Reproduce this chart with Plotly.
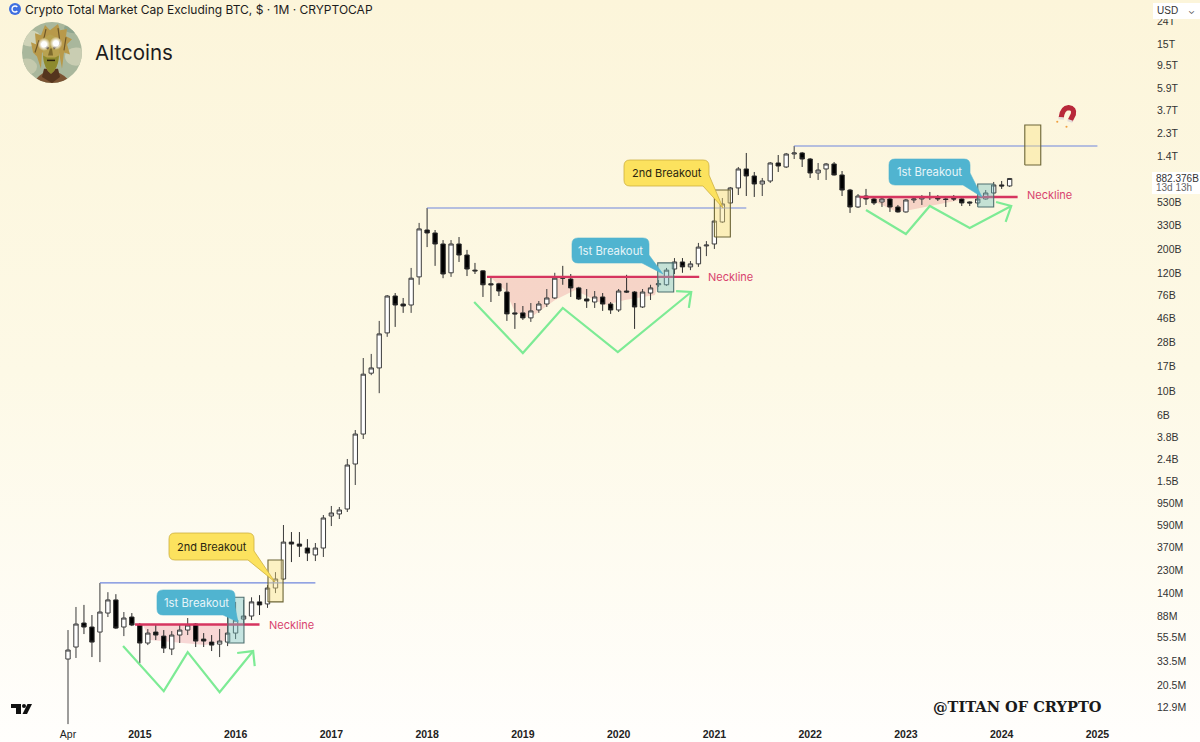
import base64
import plotly.graph_objects as go

# monthly candles, market cap in $B, first one is Apr 2014
opens = [.0354,.0456,.0756,.0695,.0625,.0933,.123,.0695,.0858,.0725,.0496,.0625,.0574,.0437,.0587,.0652,.074,.0539,.0506,.0485,
         .0506,.0612,.0822,.0876,.118,.113,.158,.191,.416,.399,.367,.317,.367,.721,.752,.835,2.155,4.05,14.6,16.3,
         34.1,74.2,62.7,61.4,111,298,280,222,121,222,176,128,126,96,96,80.7,52,52,46.8,55.3,
         62.7,71.2,111,106,88,69.7,65.4,72.7,62.7,55.3,82.4,80.7,58.9,79,94,94,131,152,137,146,
         213,222,353,527,723,1078,930,786,837,1223,1124,1478,1510,1330,991,1078,1198,950,692,484,
         610,573,538,573,484,436,561,573,598,598,573,579,573,538,527,573,650,770,754]
highs = [.0652,.106,.1107,.0895,.1756,.1448,.1388,.0953,.0933,.0756,.0666,.0725,.0652,.0638,.0725,.084,.0756,.0612,.0587,.0666,
         .0895,.118,.123,.130,.136,.168,.221,.596,.514,.514,.443,.408,.736,.890,.871,2.395,4.41,20.1,21.9,43.9,
         75.8,79,71.2,134,346,474,298,241,241,257,196,149,128,111,98,98,64,60.1,64,66.8,
         86,121,140,118,90,86,82.4,79,65.4,86,116,82.4,86,94,104,134,165,165,155,227,
         236,365,585,738,1124,1510,1012,892,1249,1447,1510,1750,1542,1359,1223,1223,1249,1033,708,636,
         708,598,598,610,505,573,610,623,664,623,598,623,580,545,598,692,820,837,892]
lows = [.00899,.0362,.0599,.0369,.0332,.0858,.0666,.0574,.0709,.0325,.0475,.0528,.0402,.0385,.0496,.0587,.0456,.0456,.0419,.0369,
        .0465,.0539,.0725,.0805,.0895,.104,.142,.187,.273,.304,.279,.279,.304,.583,.676,.784,1.385,3.65,14.0,9.58,
        31.4,38.7,52,52,94,208,140,108,111,152,113,118,72.7,65.4,74.2,43.9,37.1,44.8,43,52,
        58.9,69.7,94,72.7,68.2,57.7,57.7,54.2,50.9,53,79,37.1,57.7,68.2,90,92,118,121,128,137,
        172,200,346,516,623,610,598,610,803,1012,1100,1330,1124,892,855,855,940,610,427,474,
        505,505,484,436,430,430,527,505,561,549,484,549,494,494,505,565,640,708,738]
closes = [.0428,.074,.0695,.0506,.0953,.123,.068,.084,.0725,.0496,.0612,.0587,.0446,.0587,.0652,.0725,.0517,.0517,.0475,.0517,
          .0612,.0805,.0876,.118,.1107,.158,.191,.416,.399,.382,.330,.367,.691,.768,.818,2.11,4.05,14.3,16.3,33.4,
          74.2,61.4,60.1,108,305,280,222,118,222,176,131,126,94,94,82.4,50.9,50.9,46.8,54.2,62.7,
          71.2,108,108,88,69.7,66.8,72.7,62.7,55.3,82.4,80.7,58.9,80.7,88,96,128,152,137,146,208,
          217,360,516,723,1078,930,786,837,1223,1148,1478,1510,1330,991,1055,1198,950,692,484,610,
          573,527,573,484,436,561,573,598,590,573,567,573,527,527,573,650,770,754,882]

x_ticks = [0, 9, 21, 33, 45, 57, 69, 81, 93, 105, 117, 129]
x_labels = ['Apr', '<b>2015</b>', '<b>2016</b>', '<b>2017</b>', '<b>2018</b>', '<b>2019</b>',
            '<b>2020</b>', '<b>2021</b>', '<b>2022</b>', '<b>2023</b>', '<b>2024</b>', '<b>2025</b>']
y_ticks = [24000, 15000, 9500, 5900, 3700, 2300, 1400, 530, 330, 200, 120, 76, 46, 28, 17, 10, 6, 3.8, 2.4, 1.5,
           .95, .59, .37, .23, .14, .088, .0555, .0335, .0205, .0129]
y_labels = ['24T', '15T', '9.5T', '5.9T', '3.7T', '2.3T', '1.4T', '530B', '330B', '200B', '120B', '76B', '46B',
            '28B', '17B', '10B', '6B', '3.8B', '2.4B', '1.5B', '950M', '590M', '370M', '230M', '140M', '88M',
            '55.5M', '33.5M', '20.5M', '12.9M']

# levels drawn on the chart, same units (month index, $B)
neck_months = [[8.4, 24], [52.5, 79.1], [99.2, 119]]
neck_levels = [.0733, 111, 598]
high_months = [[4, 31], [45, 85], [91, 129]]
high_levels = [.176, 474, 1750]

zig_months = [[6.9, 12, 15, 19, 23.2, None, 21.2, 23.2, 23.4],
              [50.9, 57, 62, 68.9, 78.1, None, 76.2, 78.1, 77.8],
              [100, 105, 108, 113, 118.2, None, 116.3, 118.2, 117.5]]
zig_values = [[.0465, .018, .041, .0176, .0419, None, .0402, .0419, .0305],
              [65.4, 22.3, 57.7, 22.8, 80.7, None, 82.4, 80.7, 57.7],
              [454, 274, 494, 311, 494, None, 538, 494, 353]]

box_months = [[25.06, 26.95], [81, 83], [119.9, 121.9], [20.05, 22.05], [73.9, 75.9], [114, 116]]
box_values = [[.118, .285], [257, 692], [1173, 2722], [.0496, .130], [80.7, 149], [484, 786]]
box_kinds = ['yellow', 'yellow', 'yellow', 'teal', 'teal', 'teal']

W, H = 1200, 742
PLOT_W, PLOT_H = 1150, 726


def px(x):
    return x / PLOT_W


def py(y):
    return 1 - y / PLOT_H


def poly(points):
    return 'M' + ' L'.join('%.5f %.5f' % (px(a), py(b)) for a, b in points) + ' Z'


def callout(x0, y0, x1, y1, tail, r=6):
    # rounded box, tail = three points going clockwise along the box edge
    P = lambda a, b: '%.5f %.5f' % (px(a), py(b))
    s = 'M' + P(x0 + r, y0) + ' L' + P(x1 - r, y0) + ' Q' + P(x1, y0) + ' ' + P(x1, y0 + r)
    s += ' L' + P(*tail[0]) + ' L' + P(*tail[1]) + ' L' + P(*tail[2])
    s += ' L' + P(x0 + r, y1) + ' Q' + P(x0, y1) + ' ' + P(x0, y1 - r)
    s += ' L' + P(x0, y0 + r) + ' Q' + P(x0, y0) + ' ' + P(x0 + r, y0) + ' Z'
    return s


def svg_uri(svg):
    return 'data:image/svg+xml;base64,' + base64.b64encode(svg.encode()).decode()


background = ('<svg xmlns="http://www.w3.org/2000/svg" width="1200" height="742" preserveAspectRatio="none">'
              '<defs><linearGradient id="g" x1="0" y1="0" x2="0" y2="1">'
              '<stop offset="0" stop-color="#fcf5da"/><stop offset="0.5" stop-color="#fdf9e6"/>'
              '<stop offset="1" stop-color="#fffefc"/></linearGradient></defs>'
              '<rect width="1200" height="742" fill="url(#g)"/></svg>')

avatar = ('<svg xmlns="http://www.w3.org/2000/svg" viewBox="0 0 60 60">'
          '<defs><clipPath id="c"><circle cx="30" cy="30" r="30"/></clipPath>'
          '<radialGradient id="e"><stop offset="0.4" stop-color="#fff"/><stop offset="1" stop-color="#fff" stop-opacity="0"/></radialGradient></defs>'
          '<g clip-path="url(#c)"><rect width="60" height="60" fill="#a9b79c"/>'
          '<ellipse cx="8" cy="16" rx="11" ry="8" fill="#cfd3b8"/><ellipse cx="54" cy="34" rx="11" ry="9" fill="#c9cdb2"/>'
          '<ellipse cx="5" cy="44" rx="10" ry="8" fill="#c4c9ad"/><ellipse cx="52" cy="6" rx="10" ry="5" fill="#8fa58f"/>'
          '<path d="M10 62 Q16 52 24 49 L34 49 Q44 52 50 62 Z" fill="#7a5232"/>'
          '<path d="M22 46 L36 46 L38 54 L30 60 L20 54 Z" fill="#54351e"/>'
          '<path d="M11 30 L9 20 L14 22 L13 11 L19 13 L23 3 L28 8 L36 2 L38 8 L45 7 L44 14 L50 17 L45 22 L48 32 L42 30 L40 46 L37 30 L20 30 L19 46 L15 34 Z" fill="#b8994a"/>'
          '<path d="M17 18 L13 30 M24 7 L21 20 M36 6 L38 20 M44 15 L42 28" stroke="#6e5728" stroke-width="1.2" fill="none"/>'
          '<path d="M20 17 L28 12 L38 17 L37 34 Q36 46 29 51 Q22 46 21 34 Z" fill="#b8a250"/>'
          '<path d="M21 33 L25 35 L33 35 L37 33 Q36 46 29 51 Q22 46 21 33 Z" fill="#8d8a2e"/>'
          '<path d="M19 20 L27 25 L26 27 L19 23 Z M38 19 L31 25 L32 27 L38 22 Z" fill="#3d2c16"/>'
          '<path d="M28 26 L26 33 L31 33 L30 26 Z" fill="#7d6a2c"/><rect x="25" y="37" width="8" height="1.5" fill="#2e2410"/>'
          '<circle cx="22" cy="22" r="6.5" fill="url(#e)"/><circle cx="34" cy="21" r="6.5" fill="url(#e)"/></g></svg>')

magnet = ('<svg xmlns="http://www.w3.org/2000/svg" viewBox="0 0 20 24">'
          '<path d="M5 14 Q6 5 12 4.5 Q18 5 16.5 11 L13.5 17" fill="none" stroke="#b8283a" stroke-width="5"/>'
          '<path d="M2.5 14.5 L7.5 15 M11 16.5 L15.8 18" stroke="#e4dcd8" stroke-width="2.2"/>'
          '<circle cx="1.2" cy="18" r="1" fill="#f0a040"/><circle cx="10" cy="22.8" r="1" fill="#f0a040"/></svg>')

coin = ('<svg xmlns="http://www.w3.org/2000/svg" viewBox="0 0 12 12"><circle cx="6" cy="6" r="6" fill="#3f6fe0"/>'
        '<path d="M8.3 4 A3 3 0 1 0 8.3 8" fill="none" stroke="#fff" stroke-width="1.4"/></svg>')

fig = go.Figure()
fig.add_trace(go.Candlestick(
    x=list(range(len(opens))), open=opens, high=highs, low=lows, close=closes,
    increasing=dict(fillcolor='#ffffff', line=dict(color='#3c3c3c', width=1)),
    decreasing=dict(fillcolor='#000000', line=dict(color='#2c2c2c', width=1)),
    whiskerwidth=0, hoverinfo='skip', showlegend=False))

for months, level in zip(high_months, high_levels):
    fig.add_trace(go.Scatter(x=months, y=[level, level], mode='lines', line=dict(color='#6f86dd', width=1.2),
                             hoverinfo='skip', showlegend=False))
for months, level in zip(neck_months, neck_levels):
    fig.add_trace(go.Scatter(x=months, y=[level, level], mode='lines', line=dict(color='#d6355f', width=2.4),
                             hoverinfo='skip', showlegend=False))
for months, values in zip(zig_months, zig_values):
    fig.add_trace(go.Scatter(x=months, y=values, mode='lines', line=dict(color='#7deb95', width=2.2),
                             hoverinfo='skip', showlegend=False))

box_fill = {'yellow': 'rgba(250,226,130,0.42)', 'teal': 'rgba(120,195,195,0.42)'}
box_line = {'yellow': '#6c6536', 'teal': '#4d6e6e'}
for months, values, kind in zip(box_months, box_values, box_kinds):
    fig.add_trace(go.Scatter(x=[months[0], months[1], months[1], months[0], months[0]],
                             y=[values[0], values[0], values[1], values[1], values[0]],
                             mode='lines', fill='toself', fillcolor=box_fill[kind],
                             line=dict(color=box_line[kind], width=1.1), hoverinfo='skip', showlegend=False))

images = [dict(source=svg_uri(background), xref='paper', yref='paper', x=0, y=1, sizex=W / PLOT_W, sizey=H / PLOT_H,
               xanchor='left', yanchor='top', sizing='stretch', layer='below')]
for svg, x0, y0, w, h in [(avatar, 22, 22, 60, 61), (magnet, 1056, 103, 21, 25), (coin, 9, 3, 12, 12)]:
    images.append(dict(source=svg_uri(svg), xref='paper', yref='paper', x=px(x0), y=py(y0), sizex=w / PLOT_W,
                       sizey=h / PLOT_H, xanchor='left', yanchor='top', sizing='stretch', layer='above'))

shapes = []
# pink area under the necklines
pink = 'rgba(232,130,135,0.30)'
for pts in [[(143, 625), (228, 625), (228, 640), (205, 645), (150, 640)],
            [(490, 277), (660, 277), (655, 295), (625, 300), (605, 305), (575, 290), (555, 300), (530, 318), (515, 312), (505, 290)],
            [(865, 197), (985, 197), (960, 200), (905, 211), (895, 211), (880, 204)]]:
    shapes.append(dict(type='path', path=poly(pts), xref='paper', yref='paper', fillcolor=pink, line_width=0, layer='below'))

yellow = dict(fillcolor='#fce25e', line=dict(color='#cdb040', width=0.8))
teal = dict(fillcolor='#50b4d0', line=dict(color='#50b4d0', width=0.6))
shapes.append(dict(type='path', xref='paper', yref='paper', layer='above',
                   path=callout(169, 533, 254, 560, [(254, 551), (275, 582), (248, 560)]), **yellow))
shapes.append(dict(type='path', xref='paper', yref='paper', layer='above',
                   path=callout(157, 590, 235, 615, [(235, 607), (238, 622), (223, 615)]), **teal))
shapes.append(dict(type='path', xref='paper', yref='paper', layer='above',
                   path=callout(624, 160, 709, 186, [(709, 175), (723, 208), (703, 186)]), **yellow))
shapes.append(dict(type='path', xref='paper', yref='paper', layer='above',
                   path=callout(572, 238, 649, 263, [(649, 255), (663, 274), (642, 263)]), **teal))
shapes.append(dict(type='path', xref='paper', yref='paper', layer='above',
                   path=callout(889, 159, 970, 185, [(970, 173), (982, 197), (963, 185)]), **teal))

# tradingview mark
for pts in [[(11, 704), (21, 704), (21, 714), (16, 714), (16, 708), (11, 708)],
            [(32, 704), (27, 714), (22.5, 714), (27.5, 704)]]:
    shapes.append(dict(type='path', path=poly(pts), xref='paper', yref='paper', fillcolor='#111111', line_width=0, layer='above'))
shapes.append(dict(type='circle', xref='paper', yref='paper', x0=px(22), x1=px(26), y0=py(708), y1=py(704),
                   fillcolor='#111111', line_width=0, layer='above'))
# usd box and last price box
shapes.append(dict(type='rect', xref='paper', yref='paper', x0=px(1153), x1=px(1200), y0=py(19), y1=py(3),
                   fillcolor='#ffffff', line_width=0, layer='above'))
shapes.append(dict(type='rect', xref='paper', yref='paper', x0=px(1152), x1=px(1200), y0=py(194), y1=py(172),
                   fillcolor='#ffffff', line_width=0, layer='above'))


def label(x, y, text, size=12, color='#222222', anchor='center', family='Inter, Liberation Sans, sans-serif'):
    return dict(x=px(x), y=py(y), xref='paper', yref='paper', text=text, showarrow=False, xanchor=anchor, yanchor='middle',
                font=dict(size=size, color=color, family=family), align='left')


annotations = [
    label(23, 9.5, 'Crypto Total Market Cap Excluding BTC, $ · 1M · CRYPTOCAP', 12, '#1c1c1c', 'left'),
    label(93, 52, 'Altcoins', 20.5, '#1c1c1c', 'left'),
    label(211.5, 546.5, '2nd Breakout', 11, '#2a2610'),
    label(666.5, 173, '2nd Breakout', 11, '#2a2610'),
    label(196, 602.5, '1st Breakout', 11.3, '#e6f5f9'),
    label(610.5, 250.5, '1st Breakout', 11.3, '#e6f5f9'),
    label(929.5, 172, '1st Breakout', 11.3, '#e6f5f9'),
    label(267, 624.5, 'Neckline', 11, '#d8436e', 'left'),
    label(706, 277, 'Neckline', 11, '#d8436e', 'left'),
    label(1025, 194.5, 'Neckline', 11, '#d8436e', 'left'),
    label(1017, 706, '<b>@TITAN OF CRYPTO</b>', 14.6, '#1a1a1a', 'center', 'DejaVu Serif, serif'),
    label(1155, 11, 'USD', 10, '#333333', 'left', 'Liberation Sans, sans-serif'),
    label(1197, 10, '⌄', 9, '#555555', 'right'),
    label(1154, 178, '882.376B', 10, '#333333', 'left', 'Liberation Sans, sans-serif'),
    label(1154, 188, '13d 13h', 10, '#666666', 'left', 'Liberation Sans, sans-serif'),
]

fig.update_layout(
    width=W, height=H, margin=dict(l=0, r=W - PLOT_W, t=0, b=H - PLOT_H, pad=0),
    paper_bgcolor='rgba(0,0,0,0)', plot_bgcolor='rgba(0,0,0,0)', showlegend=False, boxgap=0.22,
    images=images, shapes=shapes, annotations=annotations,
    xaxis=dict(range=[-68 / 7.98, (PLOT_W - 68) / 7.98], rangeslider_visible=False, showgrid=False, zeroline=False,
               showline=False, tickmode='array', tickvals=x_ticks, ticktext=x_labels, ticks='',
               tickfont=dict(size=10.5, color='#222222', family='Liberation Sans, sans-serif')),
    yaxis=dict(type='log', range=[-2.0636, 4.5786], side='right', showgrid=False, zeroline=False, showline=False,
               tickmode='array', tickvals=y_ticks, ticktext=y_labels, ticks='', ticklabelstandoff=6,
               tickfont=dict(size=10.5, color='#333333', family='Liberation Sans, sans-serif')),
)

fig.write_html('out.html', config={'displayModeBar': False}, post_script="document.body.style.margin='0';")
